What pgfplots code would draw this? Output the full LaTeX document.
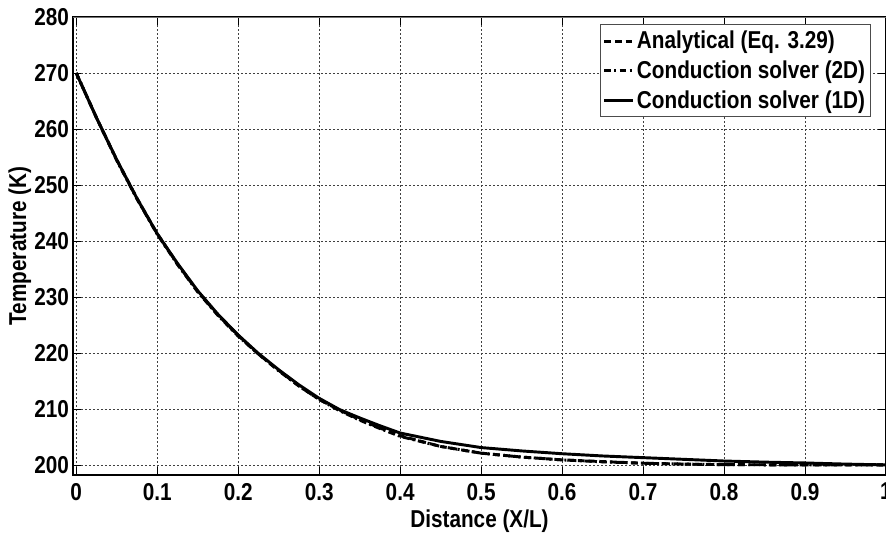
\documentclass[border=0pt]{standalone}
\usepackage{fontspec}
\setmainfont{Liberation Sans}[FakeStretch=0.85]
\usepackage{pgfplots}
\pgfplotsset{compat=1.18}
\pgfplotstableread{
x T
0.000 270.0
0.025 262.0
0.050 254.5
0.075 247.6
0.100 241.3
0.125 235.9
0.150 231.0
0.175 226.8
0.200 223.1
0.225 219.8
0.250 216.9
0.275 214.1
0.300 211.7
0.325 209.8
0.350 208.1
0.375 206.6
0.400 205.2
0.450 203.3
0.500 202.1
0.550 201.4
0.600 200.9
0.650 200.6
0.700 200.3
0.750 200.15
0.800 200.05
0.900 200.0
1.000 200.0
}\analytical
\pgfplotstableread{
x T
0.000 270.0
0.025 262.0
0.050 254.4
0.075 247.5
0.100 241.2
0.125 235.8
0.150 230.9
0.175 226.7
0.200 223.0
0.225 219.8
0.250 216.8
0.275 214.1
0.300 211.7
0.325 209.7
0.350 208.0
0.375 206.5
0.400 205.1
0.450 203.3
0.500 202.1
0.550 201.4
0.600 200.9
0.650 200.55
0.700 200.3
0.750 200.15
0.800 200.05
0.900 200.0
1.000 200.0
}\twod
\pgfplotstableread{
x T
0.000 270.0
0.025 262.0
0.050 254.5
0.075 247.6
0.100 241.3
0.125 236.0
0.150 231.1
0.175 226.9
0.200 223.2
0.225 219.9
0.250 217.0
0.275 214.3
0.300 211.9
0.325 209.9
0.350 208.4
0.375 207.0
0.400 205.7
0.450 204.2
0.500 203.1
0.550 202.5
0.600 202.0
0.650 201.6
0.700 201.3
0.750 201.0
0.800 200.7
0.850 200.5
0.900 200.35
0.950 200.15
1.000 200.0
}\oned
\begin{document}
\begin{tikzpicture}
\clip (-54.75pt,-43.5pt) rectangle (609.75pt,356.25pt);
\begin{axis}[
  at={(0,0)}, anchor=south west,
  scale only axis, width=609.75pt, height=343.5pt,
  xmin=-0.004, xmax=1, ymin=198.2, ymax=280,
  xtick={0,0.1,0.2,0.3,0.4,0.5,0.6,0.7,0.8,0.9,1},
  xticklabels={0,0.1,0.2,0.3,0.4,0.5,0.6,0.7,0.8,0.9,1},
  ytick={200,210,220,230,240,250,260,270,280},
  grid=major,
  major grid style={black!75, line width=0.6pt, dash pattern=on 1.5pt off 1.5pt},
  tick align=inside, major tick length=6pt,
  tick style={black, line width=0.6pt},
  axis line style={black, line width=1pt},
  /pgf/number format/assume math mode=true,
  tick label style={font=\fontsize{18.3pt}{22pt}\selectfont\bfseries},
  xticklabel style={yshift=-2.5pt},
  yticklabel style={xshift=0.5pt},
  label style={font=\fontsize{18.3pt}{22pt}\selectfont\bfseries},
  xlabel={Distance (X/L)},
  ylabel={Temperature (K)},
  xlabel style={yshift=0pt},
  ylabel style={yshift=-4.5pt},
  legend cell align=left,
  legend style={at={(1,1)}, anchor=north east, xshift=-11.25pt, yshift=-5.25pt,
    draw=black!70, line width=0.8pt, inner xsep=2pt, inner ysep=3pt,
    font=\fontsize{18.3pt}{22pt}\selectfont\bfseries,
    row sep=3.5pt},
  legend image code/.code={\draw[#1] plot coordinates {(0cm,0cm) (0.75cm,0cm)};},
]
\addplot[black, line width=2.2pt, dash pattern=on 5pt off 3pt] table[x=x,y=T] {\analytical};
\addlegendentry{Analytical (Eq. 3.29)}
\addplot[black, line width=2.2pt, dash pattern=on 5pt off 2.5pt on 1.5pt off 2.5pt] table[x=x,y=T] {\twod};
\addlegendentry{Conduction solver (2D)}
\addplot[black, line width=2.2pt] table[x=x,y=T] {\oned};
\addlegendentry{Conduction solver (1D)}
\draw[black!55, line width=1pt] (rel axis cs:0,1) -- (rel axis cs:1,1);
\end{axis}
\end{tikzpicture}
\end{document}
